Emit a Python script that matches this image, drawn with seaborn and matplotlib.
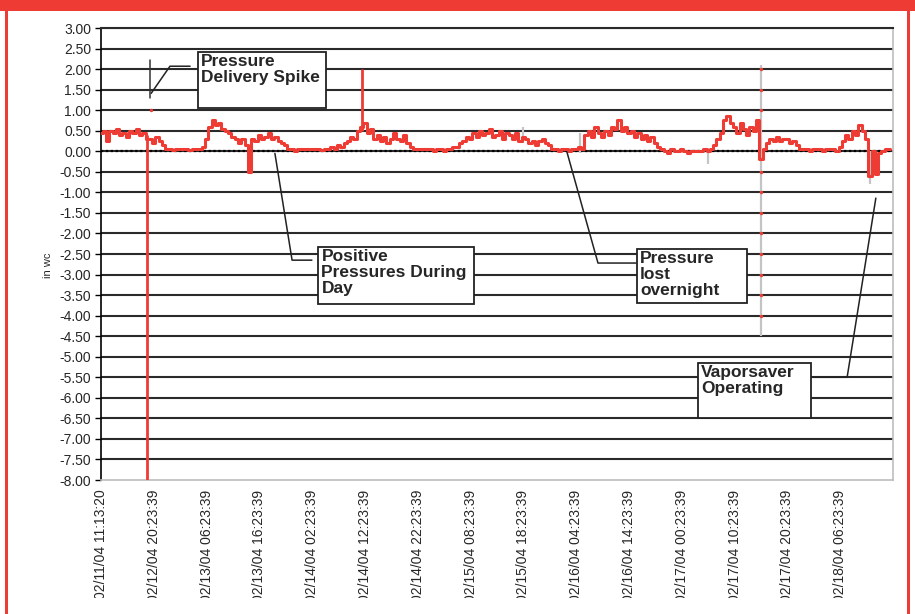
import matplotlib
matplotlib.use("Agg")
import matplotlib.pyplot as plt
from matplotlib.patches import Rectangle
from matplotlib.transforms import Bbox, TransformedBbox
import numpy as np
import pandas as pd
import seaborn as sns

# tank pressure readings (in wc), category axis, label every 16 readings
pressure = [
    0.45, 0.5, 0.25, 0.5, 0.45, 0.55, 0.4, 0.45, 0.35, 0.5, 0.45, 0.55, 0.4, 0.45,
    0.3,
    0.3, 0.2, 0.35, 0.25, 0.15,
    0.05, 0.05, 0.03, 0.05, 0.05, 0.05, 0.05, 0.03, 0.05, 0.05, 0.05, 0.1,
    0.3, 0.6, 0.75, 0.65, 0.7, 0.55,
    0.5, 0.45, 0.35, 0.3,
    0.2, 0.3, 0.15, -0.5, 0.3, 0.25, 0.4, 0.3,
    0.35, 0.45, 0.3, 0.35, 0.25, 0.2, 0.15,
    0.05, 0.05, 0.0, 0.05, 0.05, 0.05, 0.05, 0.05, 0.05, 0.05, 0.03, 0.05, 0.05,
    0.1, 0.05, 0.15, 0.1, 0.2,
    0.25, 0.35, 0.3, 0.5,
    0.6,
    0.7, 0.45, 0.55, 0.3,
    0.4, 0.25, 0.35, 0.2, 0.3, 0.45, 0.3, 0.25, 0.4, 0.2, 0.1, 0.05,
    0.05, 0.05, 0.05, 0.05, 0.05, 0.0, 0.05, 0.05, 0.0, 0.05, 0.05,
    0.1, 0.1, 0.2, 0.25, 0.35, 0.3, 0.45, 0.35, 0.5,
    0.4, 0.45, 0.55, 0.35, 0.4, 0.5, 0.3, 0.45, 0.4,
    0.3, 0.45, 0.25, 0.35, 0.3, 0.2, 0.25, 0.15, 0.25,
    0.3, 0.2, 0.15,
    0.05, 0.05, 0.0, 0.05, 0.05, 0.0, 0.05, 0.05, 0.1,
    0.05, 0.4, 0.5, 0.35,
    0.6, 0.45, 0.35, 0.5, 0.4, 0.6, 0.55, 0.75, 0.5,
    0.6, 0.45, 0.5, 0.35, 0.45, 0.3, 0.4, 0.25, 0.35, 0.2,
    0.1, 0.05, 0.0, -0.05, 0.05, 0.0, 0.0, 0.05, 0.0, -0.05, 0.0, 0.0,
    0.0, 0.0, 0.05, 0.0,
    0.05, 0.15, 0.3, 0.45,
    0.75, 0.85, 0.7,
    0.6, 0.45, 0.7, 0.55, 0.4, 0.6, 0.5, 0.75,
    -0.2,
    0.05,
    0.2, 0.3, 0.25, 0.35, 0.25, 0.3, 0.3, 0.2, 0.25, 0.15,
    0.05, 0.05, 0.05, 0.0, 0.05, 0.05, 0.05, 0.0, 0.05, 0.05, 0.05, 0.0,
    0.1, 0.25, 0.4, 0.3, 0.5, 0.4,
    0.65, 0.5, 0.3,
    -0.6, 0.0, -0.55, -0.05,
    0.0, 0.05, 0.05,
]
assert len(pressure) == 240

# single-reading spikes
spike_idx = [14, 79]
spike_low = [-8.0, 0.5]
spike_high = [0.4, 2.0]

# second (grey) sensor, only visible where it leaves the red trace
grey_idx = [200, 184, 233, 128, 145]
grey_low = [-4.5, -0.3, -0.8, 0.2, -0.05]
grey_high = [2.1, 0.0, 0.0, 0.6, 0.45]

# red markers sitting on the grey spike
dot_idx = [15, 200, 200, 200, 200, 200, 200, 200, 200, 200, 200, 200]
dot_val = [1.0, 2.0, 1.5, 1.0, -0.5, -1.0, -1.5, -2.0, -2.5, -3.0, -3.5, -4.0]

tick_labels = [
    "02/11/04 11:13:20", "02/12/04 20:23:39", "02/13/04 06:23:39",
    "02/13/04 16:23:39", "02/14/04 02:23:39", "02/14/04 12:23:39",
    "02/14/04 22:23:39", "02/15/04 08:23:39", "02/15/04 18:23:39",
    "02/16/04 04:23:39", "02/16/04 14:23:39", "02/17/04 00:23:39",
    "02/17/04 10:23:39", "02/17/04 20:23:39", "02/18/04 06:23:39",
]
tick_step = 16

sns.set_style("white")
plt.rcParams["font.family"] = ["Liberation Sans", "DejaVu Sans"]

RED = "#ee3b33"
df = pd.DataFrame({"reading": np.arange(len(pressure)), "in wc": pressure})

fig = plt.figure(figsize=(9.15, 6.14), dpi=100)
ax = fig.add_axes([101 / 915, 1 - 480 / 614, 792 / 915, 452 / 614])

# grid at every 0.5
for g in np.arange(-7.5, 3.01, 0.5):
    ax.axhline(g, color="#2a2a2a", lw=1.5, zorder=1)
ax.axhline(0, color="black", lw=1.6, ls=(0, (1, 1.2)), zorder=2)

ax.vlines(grey_idx, grey_low, grey_high, color="#c4c4c4", lw=1.6, zorder=2)
sns.lineplot(data=df, x="reading", y="in wc", ax=ax, color=RED, lw=2.2,
             drawstyle="steps-mid", zorder=3)
ax.vlines(spike_idx, spike_low, spike_high, color=RED, lw=2.0, zorder=3)
ax.scatter(dot_idx, dot_val, color=RED, s=6, zorder=4, linewidths=0)

ax.set_xlim(0, 240)
ax.set_ylim(-8, 3)
ax.set_yticks(np.arange(-8, 3.01, 0.5))
ax.set_yticklabels([f"{v:.2f}" for v in np.arange(-8, 3.01, 0.5)], fontsize=10)
ax.set_xticks(np.arange(len(tick_labels)) * tick_step)
ax.set_xticklabels(tick_labels, rotation=90, fontsize=10, va="top")
ax.tick_params(axis="y", length=4, width=1, color="black", pad=3, direction="out", left=True)
ax.tick_params(axis="x", length=0, pad=7)
ax.set_xlabel("")
ax.set_ylabel("")

for side in ["right", "bottom"]:
    ax.spines[side].set_color("#bdbdbd")
    ax.spines[side].set_linewidth(1.2)
ax.spines["top"].set_color("#2a2a2a")
ax.spines["top"].set_linewidth(1.5)
ax.spines["left"].set_color("black")
ax.spines["left"].set_linewidth(1.2)

fig.text(48 / 915, 1 - 265 / 614, "in wc", rotation=90, fontsize=8, ha="center", va="center")

# call-out boxes  (x in readings, y in wc)
boxes = [
    ("Pressure\nDelivery Spike", 29.4, 68.2, 1.05, 2.41,
     [(27.0, 2.07), (20.9, 2.07), (15.2, 1.41)]),
    ("Positive\nPressures During\nDay", 65.8, 113.0, -3.72, -2.33,
     [(52.7, -0.05), (57.9, -2.65), (63.9, -2.65)]),
    ("Pressure\nlost\novernight", 162.4, 195.8, -3.70, -2.38,
     [(141.2, -0.02), (150.6, -2.72), (162.1, -2.72)]),
    ("Vaporsaver\nOperating", 180.9, 215.2, -6.50, -5.16,
     [(215.8, -5.5), (226.1, -5.5), (234.8, -1.14)]),
]
for text, x0, x1, y0, y1, leader in boxes:
    ax.add_patch(Rectangle((x0, y0), x1 - x0, y1 - y0, facecolor="white",
                           edgecolor="#222222", lw=1.3, zorder=6))
    ax.text(x0 + 1.0, y1 - 0.04, text, fontsize=12.5, fontweight="bold", ha="left",
            va="top", linespacing=1.08, zorder=7)
    lx, ly = zip(*leader)
    ax.plot(lx, ly, color="#222222", lw=1.1, zorder=5, clip_on=False)
# pointer stub at the delivery spike
ax.plot([14.8, 14.8], [2.21, 1.29], color="#333333", lw=1.1, zorder=5)

# clip rotated labels at the lower edge like the source image
clip = TransformedBbox(Bbox([[0, 16 / 614], [1, 1]]), fig.transFigure)
for lbl in ax.get_xticklabels():
    lbl.set_clip_box(clip)
    lbl.set_clip_on(True)

# red page frame
fig.patches.append(Rectangle((0, 1 - 11 / 614), 1, 11 / 614, transform=fig.transFigure,
                             facecolor=RED, edgecolor="none"))
fig.patches.append(Rectangle((5 / 915, 0), 3 / 915, 1, transform=fig.transFigure,
                             facecolor=RED, edgecolor="none"))
fig.patches.append(Rectangle((907 / 915, 0), 3 / 915, 1, transform=fig.transFigure,
                             facecolor=RED, edgecolor="none"))

fig.savefig("out.png", dpi=100, facecolor="white")
